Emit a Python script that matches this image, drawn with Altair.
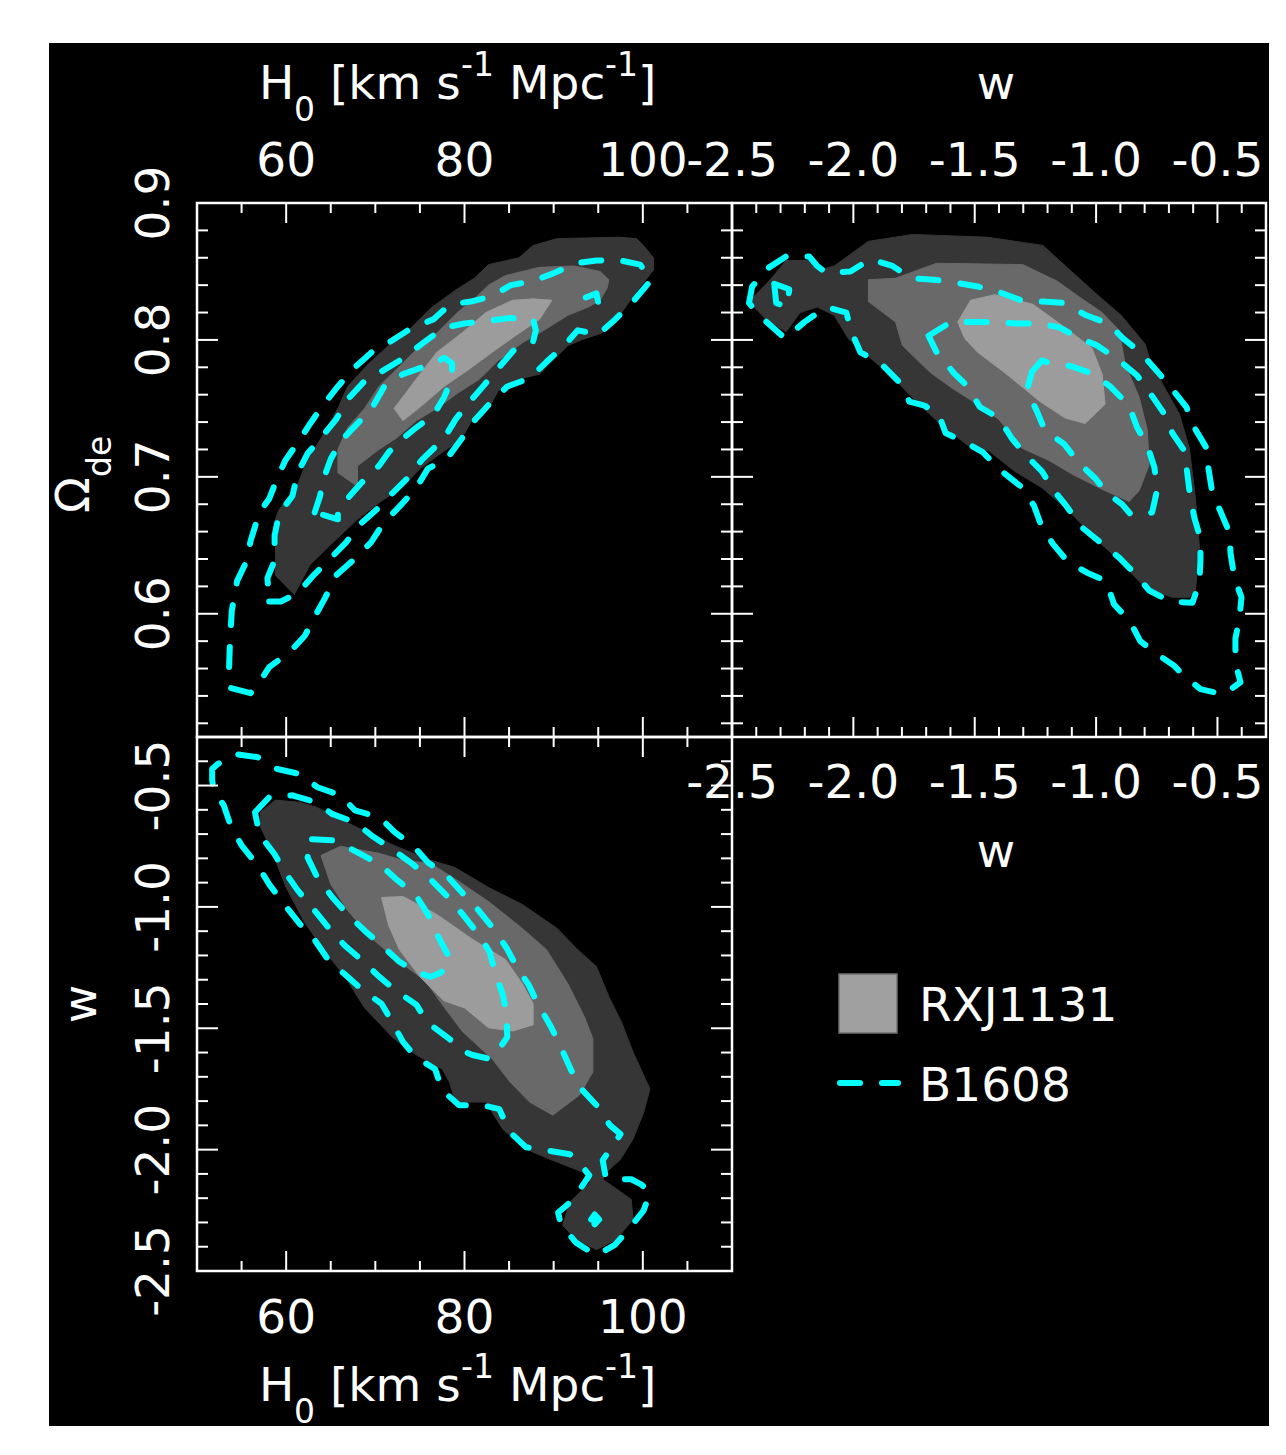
import altair as alt
import pandas as pd

FONT = "DejaVu Sans"
CYAN = "#00ffff"
GREY_OUTER = "#363636"
GREY_MID = "#696969"
GREY_INNER = "#9c9c9c"

# ---------------- axis ranges / ticks / labels ----------------
H0_DOMAIN = [50, 110]
OM_DOMAIN = [0.51, 0.9]
W_DOMAIN = [-2.5, -0.3]

H0_MAJOR = [60, 80, 100]
H0_MINOR = [55, 65, 70, 75, 85, 90, 95, 105]
OM_MAJOR = [0.6, 0.7, 0.8]
OM_MINOR = [0.52, 0.54, 0.56, 0.58, 0.62, 0.64, 0.66, 0.68, 0.72, 0.74, 0.76, 0.78, 0.82, 0.84, 0.86, 0.88]
W_MAJOR = [-2.0, -1.5, -1.0, -0.5]
W_MINOR = [-2.4, -2.3, -2.2, -2.1, -1.9, -1.8, -1.7, -1.6, -1.4, -1.3, -1.2, -1.1, -0.9, -0.8, -0.7, -0.6, -0.4]

H0_TICKVALS = [60, 80, 100]
H0_TICKLABELS = ["60", "80", "100"]
OM_TICKVALS = [0.6, 0.7, 0.8, 0.9]
OM_TICKLABELS = ["0.6", "0.7", "0.8", "0.9"]
W_TICKVALS = [-2.5, -2.0, -1.5, -1.0, -0.5]
W_TICKLABELS = ["-2.5", "-2.0", "-1.5", "-1.0", "-0.5"]

LEGEND_LABELS = ["RXJ1131", "B1608"]

# ---------------- panel H0 vs Omega_de ----------------
TL_RXJ_OUTER = [(86.1,0.860),(87.7,0.869),(90.4,0.874),(97.4,0.875),(99.3,0.874),(100.2,0.868),(101.2,0.860),(101.2,0.851),(99.6,0.838),(98.5,0.828),(97.4,0.818),(95.4,0.805),(93.1,0.800),(91.6,0.796),(88.4,0.775),(86.5,0.772),(83.8,0.763),(82.7,0.750),(80.8,0.741),(79.7,0.728),(76.9,0.715),(75.0,0.706),(73.1,0.693),(70.4,0.681),(68.0,0.669),(65.4,0.653),(62.7,0.636),(60.9,0.614),(58.8,0.628),(58.8,0.669),(59.2,0.676),(61.2,0.693),(62.3,0.711),(63.9,0.728),(65.8,0.750),(66.9,0.766),(69.3,0.783),(71.5,0.796),(73.9,0.808),(76.2,0.823),(78.9,0.836),(81.1,0.845),(82.7,0.855)]
TL_RXJ_MID = [(82.7,0.840),(84.6,0.847),(88.4,0.853),(92.3,0.854),(95.2,0.850),(96.2,0.844),(96.0,0.838),(95.2,0.829),(93.9,0.824),(91.6,0.818),(88.4,0.805),(86.5,0.798),(83.8,0.785),(81.6,0.771),(79.2,0.761),(76.9,0.750),(74.6,0.741),(72.3,0.728),(70.4,0.720),(68.0,0.708),(68.0,0.693),(65.8,0.703),(65.8,0.720),(66.9,0.736),(68.8,0.750),(70.4,0.766),(72.3,0.778),(74.6,0.793),(76.9,0.805),(79.2,0.820),(81.1,0.830)]
TL_RXJ_INNER = [(89.8,0.829),(88.4,0.815),(85.7,0.803),(83.1,0.791),(80.4,0.778),(77.7,0.766),(75.4,0.753),(73.1,0.741),(72.1,0.750),(73.4,0.761),(75.0,0.775),(76.9,0.791),(79.7,0.805),(82.4,0.820),(85.4,0.829),(87.7,0.830)]
TL_B_OUTER = [(56.0,0.542),(53.7,0.546),(53.6,0.561),(53.7,0.580),(53.9,0.602),(54.5,0.624),(55.6,0.639),(56.0,0.653),(57.0,0.674),(58.1,0.684),(59.0,0.699),(59.9,0.712),(61.3,0.725),(62.7,0.739),(64.2,0.753),(65.8,0.766),(67.7,0.780),(69.6,0.791),(71.5,0.798),(73.9,0.808),(76.5,0.815),(78.4,0.826),(80.7,0.828),(83.1,0.832),(85.2,0.840),(87.7,0.843),(90.1,0.849),(92.5,0.856),(94.8,0.858),(97.5,0.858),(99.7,0.855),(100.96,0.844),(98.9,0.828),(96.9,0.815),(95.0,0.804),(92.7,0.807),(91.2,0.796),(89.2,0.784),(87.3,0.772),(84.8,0.766),(82.9,0.754),(81.1,0.741),(79.7,0.728),(78.0,0.713),(75.9,0.706),(74.5,0.691),(72.8,0.679),(70.9,0.666),(69.5,0.652),(67.5,0.639),(65.6,0.628),(64.4,0.612),(63.3,0.599),(62.1,0.584),(60.4,0.572),(58.1,0.561),(56.8,0.548)]
TL_B_MID = [(58.1,0.609),(59.4,0.609),(61.3,0.615),(63.2,0.629),(64.9,0.640),(66.7,0.652),(68.4,0.666),(70.3,0.677),(71.9,0.688),(73.6,0.699),(75.3,0.713),(77.7,0.728),(79.0,0.742),(80.6,0.755),(82.2,0.767),(84.0,0.781),(85.6,0.793),(87.7,0.799),(88.0,0.807),(87.7,0.815),(85.1,0.816),(82.6,0.814),(80.0,0.812),(77.7,0.809),(75.4,0.798),(73.0,0.786),(70.7,0.777),(68.8,0.770),(67.1,0.758),(65.6,0.742),(64.1,0.730),(62.4,0.717),(61.3,0.703),(60.7,0.686),(59.2,0.673),(58.7,0.657),(58.7,0.639),(57.9,0.626)]
TL_B_ISLAND = [(93.6,0.831),(94.8,0.834),(95.0,0.827),(94.2,0.825)]
TL_B_INNER = [(63.2,0.674),(63.8,0.686),(64.1,0.697),(65.0,0.713),(66.1,0.726),(68.3,0.741),(69.6,0.750),(71.0,0.766),(73.1,0.775),(75.3,0.780),(76.5,0.782),(77.7,0.787),(78.6,0.783),(78.6,0.772),(77.7,0.758),(76.5,0.745),(74.6,0.736),(73.1,0.728),(71.5,0.718),(70.4,0.708),(68.5,0.696),(67.4,0.688),(65.8,0.676),(65.8,0.669)]

# ---------------- panel w vs Omega_de ----------------
TR_RXJ_OUTER = [(-2.430,0.828),(-2.347,0.843),(-2.277,0.858),(-2.178,0.858),(-2.120,0.852),(-2.079,0.854),(-1.938,0.872),(-1.756,0.877),(-1.446,0.875),(-1.219,0.869),(-1.120,0.853),(-1.008,0.835),(-0.897,0.818),(-0.798,0.797),(-0.781,0.787),(-0.727,0.768),(-0.657,0.746),(-0.616,0.721),(-0.591,0.685),(-0.574,0.648),(-0.591,0.617),(-0.616,0.612),(-0.686,0.612),(-0.798,0.619),(-0.893,0.637),(-1.004,0.655),(-1.112,0.675),(-1.223,0.692),(-1.335,0.704),(-1.442,0.719),(-1.529,0.723),(-1.657,0.741),(-1.740,0.755),(-1.839,0.773),(-1.938,0.788),(-2.021,0.801),(-2.079,0.818),(-2.149,0.824),(-2.219,0.820),(-2.277,0.806),(-2.360,0.815)]
TR_RXJ_MID = [(-1.938,0.844),(-1.938,0.828),(-1.826,0.813),(-1.798,0.796),(-1.682,0.776),(-1.587,0.764),(-1.488,0.753),(-1.401,0.742),(-1.306,0.721),(-1.194,0.712),(-1.099,0.702),(-0.988,0.692),(-0.864,0.682),(-0.822,0.690),(-0.781,0.709),(-0.789,0.734),(-0.822,0.758),(-0.880,0.782),(-0.905,0.807),(-0.975,0.820),(-1.066,0.831),(-1.161,0.843),(-1.302,0.855),(-1.657,0.856),(-1.826,0.845)]
TR_RXJ_INNER = [(-1.570,0.813),(-1.517,0.829),(-1.417,0.833),(-1.260,0.826),(-1.120,0.808),(-1.017,0.794),(-0.975,0.775),(-0.963,0.753),(-1.045,0.739),(-1.128,0.743),(-1.231,0.755),(-1.376,0.776),(-1.488,0.791),(-1.541,0.801)]
TR_B_OUTER = [(-2.430,0.827),(-2.417,0.839),(-2.347,0.853),(-2.277,0.861),(-2.182,0.861),(-2.149,0.854),(-2.112,0.849),(-2.012,0.850),(-1.930,0.859),(-1.839,0.854),(-1.760,0.845),(-1.669,0.844),(-1.587,0.842),(-1.488,0.839),(-1.401,0.835),(-1.310,0.829),(-1.219,0.828),(-1.136,0.827),(-1.041,0.818),(-0.950,0.812),(-0.888,0.801),(-0.818,0.791),(-0.748,0.777),(-0.686,0.764),(-0.628,0.751),(-0.595,0.736),(-0.545,0.721),(-0.537,0.706),(-0.521,0.688),(-0.488,0.675),(-0.450,0.659),(-0.446,0.644),(-0.430,0.626),(-0.401,0.612),(-0.409,0.597),(-0.426,0.582),(-0.426,0.564),(-0.405,0.550),(-0.475,0.541),(-0.570,0.545),(-0.640,0.555),(-0.678,0.562),(-0.736,0.569),(-0.818,0.580),(-0.859,0.594),(-0.926,0.607),(-0.959,0.624),(-1.037,0.630),(-1.116,0.638),(-1.178,0.651),(-1.227,0.665),(-1.256,0.679),(-1.310,0.693),(-1.388,0.704),(-1.467,0.718),(-1.537,0.725),(-1.620,0.732),(-1.649,0.746),(-1.707,0.752),(-1.769,0.755),(-1.810,0.769),(-1.888,0.783),(-1.971,0.791),(-2.008,0.806),(-2.029,0.820),(-2.112,0.824),(-2.202,0.813),(-2.281,0.801),(-2.388,0.818)]
TR_B_MID = [(-1.690,0.803),(-1.599,0.813),(-1.517,0.813),(-1.417,0.813),(-1.331,0.812),(-1.231,0.812),(-1.149,0.809),(-1.066,0.801),(-0.996,0.796),(-0.905,0.785),(-0.831,0.774),(-0.777,0.761),(-0.719,0.746),(-0.686,0.732),(-0.636,0.719),(-0.624,0.702),(-0.612,0.685),(-0.595,0.670),(-0.570,0.655),(-0.570,0.639),(-0.574,0.623),(-0.603,0.608),(-0.694,0.609),(-0.781,0.617),(-0.839,0.629),(-0.905,0.641),(-0.988,0.653),(-1.058,0.663),(-1.128,0.680),(-1.174,0.690),(-1.223,0.704),(-1.285,0.715),(-1.347,0.728),(-1.401,0.743),(-1.479,0.751),(-1.529,0.766),(-1.587,0.776),(-1.657,0.791)]
TR_B_ISLAND = [(-2.326,0.841),(-2.264,0.837),(-2.273,0.824),(-2.318,0.827)]
TR_B_INNER = [(-1.264,0.777),(-1.223,0.785),(-1.190,0.783),(-1.107,0.781),(-1.008,0.775),(-0.942,0.766),(-0.864,0.752),(-0.831,0.736),(-0.789,0.723),(-0.760,0.707),(-0.748,0.691),(-0.769,0.674),(-0.822,0.672),(-0.859,0.673),(-0.893,0.680),(-0.955,0.688),(-1.004,0.699),(-1.070,0.710),(-1.132,0.724),(-1.211,0.734),(-1.244,0.748),(-1.285,0.763)]

# ---------------- panel H0 vs w ----------------
BL_RXJ_OUTER = [(57.1,-0.610),(58.8,-0.560),(61.5,-0.569),(63.4,-0.589),(66.1,-0.639),(69.3,-0.697),(72.3,-0.750),(76.2,-0.808),(78.9,-0.837),(82.7,-0.920),(86.5,-0.990),(90.4,-1.089),(92.7,-1.176),(94.8,-1.246),(96.2,-1.370),(97.6,-1.474),(98.9,-1.598),(100.8,-1.750),(100.1,-1.846),(98.9,-1.957),(97.5,-2.040),(95.9,-2.093),(95.5,-2.122),(98.7,-2.205),(98.9,-2.288),(97.0,-2.370),(94.8,-2.412),(92.5,-2.370),(91.0,-2.312),(91.8,-2.217),(94.1,-2.135),(93.3,-2.093),(89.6,-2.040),(86.9,-1.998),(84.3,-1.916),(82.4,-1.804),(79.0,-1.804),(78.3,-1.721),(77.5,-1.668),(74.6,-1.610),(72.0,-1.540),(68.8,-1.416),(66.6,-1.288),(64.2,-1.176),(62.0,-1.060),(60.0,-0.920),(58.5,-0.779),(57.1,-0.668)]
BL_RXJ_MID = [(63.9,-0.788),(66.1,-0.750),(70.4,-0.779),(73.1,-0.808),(76.2,-0.821),(79.2,-0.891),(82.7,-0.978),(86.5,-1.089),(89.2,-1.176),(91.6,-1.317),(93.5,-1.457),(94.4,-1.544),(94.4,-1.680),(92.9,-1.775),(89.9,-1.858),(87.3,-1.804),(85.1,-1.721),(83.1,-1.626),(79.8,-1.515),(77.7,-1.412),(75.6,-1.304),(72.5,-1.221),(69.5,-1.126),(66.9,-1.015),(65.0,-0.907)]
BL_RXJ_INNER = [(70.7,-0.961),(73.1,-0.957),(76.9,-1.031),(80.8,-1.131),(84.6,-1.217),(86.5,-1.317),(87.7,-1.399),(87.7,-1.486),(85.4,-1.511),(82.7,-1.498),(80.0,-1.416),(77.7,-1.387),(75.0,-1.288),(72.7,-1.176),(71.5,-1.077)]
BL_B_OUTER = [(51.7,-0.478),(51.7,-0.432),(52.3,-0.412),(54.2,-0.370),(56.8,-0.383),(59.0,-0.432),(61.6,-0.453),(63.5,-0.507),(66.1,-0.540),(67.7,-0.602),(70.5,-0.631),(72.2,-0.693),(74.2,-0.746),(75.9,-0.817),(78.0,-0.870),(79.7,-0.940),(81.6,-1.015),(83.3,-1.093),(84.7,-1.168),(85.9,-1.250),(87.2,-1.321),(88.1,-1.391),(89.7,-1.494),(90.8,-1.577),(91.9,-1.668),(92.9,-1.742),(94.8,-1.817),(96.3,-1.899),(97.5,-1.936),(96.9,-1.969),(95.5,-2.044),(95.8,-2.106),(96.4,-2.122),(98.7,-2.122),(99.8,-2.143),(100.8,-2.176),(100.1,-2.250),(98.4,-2.329),(96.9,-2.391),(94.8,-2.436),(92.5,-2.383),(90.8,-2.308),(90.5,-2.259),(91.6,-2.225),(93.1,-2.155),(94.0,-2.106),(93.1,-2.064),(91.8,-2.019),(89.1,-2.002),(86.9,-1.990),(85.1,-1.928),(83.9,-1.833),(82.0,-1.817),(79.4,-1.817),(77.5,-1.755),(76.7,-1.668),(74.5,-1.618),(73.1,-1.556),(71.8,-1.469),(70.7,-1.399),(68.8,-1.350),(66.9,-1.288),(64.7,-1.217),(63.1,-1.131),(61.5,-1.069),(59.8,-0.990),(58.1,-0.907),(56.8,-0.829),(55.0,-0.746),(53.8,-0.668),(53.0,-0.581),(51.9,-0.523)]
BL_B_MID = [(56.5,-0.610),(58.1,-0.548),(60.7,-0.540),(63.3,-0.569),(65.2,-0.618),(67.7,-0.651),(69.7,-0.709),(71.9,-0.763),(74.1,-0.821),(76.2,-0.887),(78.1,-0.957),(79.8,-1.031),(81.5,-1.110),(82.8,-1.184),(83.4,-1.267),(84.3,-1.362),(84.7,-1.440),(84.8,-1.536),(83.5,-1.606),(82.8,-1.626),(80.9,-1.610),(80.1,-1.598),(78.3,-1.544),(75.9,-1.478),(74.6,-1.403),(72.3,-1.345),(70.3,-1.283),(68.4,-1.217),(66.6,-1.160),(64.9,-1.093),(63.2,-1.015),(61.3,-0.932),(59.9,-0.858),(58.7,-0.783),(57.0,-0.701)]
BL_B_ISLAND = [(94.2,-2.288),(94.6,-2.267),(95.1,-2.288),(94.6,-2.308)]
BL_B_INNER = [(62.9,-0.721),(65.4,-0.726),(68.0,-0.775),(70.5,-0.825),(72.5,-0.891),(74.5,-0.949),(75.9,-1.031),(77.1,-1.126),(78.3,-1.209),(78.2,-1.250),(77.1,-1.275),(76.2,-1.288),(74.5,-1.267),(72.7,-1.226),(70.6,-1.155),(68.8,-1.098),(66.7,-1.023),(65.2,-0.961),(63.5,-0.879),(62.4,-0.796)]

# ---------------- helpers ----------------
PW_L, PW_R, PH = 535, 534, 534
BIG, SMALL = 47, 33


def poly_df(polys):
    rows = []
    for name, pts in polys:
        for i, (a, b) in enumerate(pts):
            rows.append({"poly": name, "i": i, "a": a, "b": b})
    return pd.DataFrame(rows)


def one():
    return pd.DataFrame({"k": [0]})


def piece(s, x, y, size=BIG, angle=0, align="left"):
    kw = dict(text=s, font=FONT, fontSize=size, color="white", align=align, baseline="alphabetic")
    if angle:
        kw["angle"] = angle
    return alt.Chart(one()).mark_text(**kw).encode(x=alt.value(x), y=alt.value(y))


def h0_title(base):
    return [
        piece("H", 62, base),
        piece("0", 97, base + 22, SMALL),
        piece("[km s", 133, base),
        piece("-1", 264, base - 23, SMALL),
        piece("Mpc", 312, base),
        piece("-1", 408, base - 23, SMALL),
        piece("]", 441, base),
    ]


def panel(xdom, ydom, width, fills, lines):
    xs = alt.Scale(domain=xdom, nice=False, zero=False)
    ys = alt.Scale(domain=ydom, nice=False, zero=False)

    def X(f):
        return alt.X(f"{f}:Q", scale=xs, axis=None)

    def Y(f):
        return alt.Y(f"{f}:Q", scale=ys, axis=None)

    layers = []
    for polys, col in fills:
        layers.append(
            alt.Chart(poly_df(polys))
            .mark_line(fill=col, stroke=col, strokeWidth=1, interpolate="linear-closed")
            .encode(x=X("a"), y=Y("b"), order="i:Q", detail="poly:N")
        )
    layers.append(
        alt.Chart(poly_df(lines))
        .mark_line(stroke=CYAN, strokeWidth=6, strokeDash=[20, 22], strokeCap="round",
                   strokeJoin="round", interpolate="linear-closed")
        .encode(x=X("a"), y=Y("b"), order="i:Q", detail="poly:N")
    )
    return layers, X, Y


def ticks(X, Y, width, xmaj, xmin, ymaj, ymin):
    out = []
    for vals, L in ((xmaj, 20), (xmin, 10)):
        df = pd.DataFrame({"v": vals})
        out.append(alt.Chart(df).mark_rule(color="white", strokeWidth=2)
                   .encode(x=X("v"), y=alt.value(0), y2=alt.value(L)))
        out.append(alt.Chart(df).mark_rule(color="white", strokeWidth=2)
                   .encode(x=X("v"), y=alt.value(PH - L), y2=alt.value(PH)))
    for vals, L in ((ymaj, 21), (ymin, 11)):
        df = pd.DataFrame({"v": vals})
        out.append(alt.Chart(df).mark_rule(color="white", strokeWidth=2)
                   .encode(y=Y("v"), x=alt.value(0), x2=alt.value(L)))
        out.append(alt.Chart(df).mark_rule(color="white", strokeWidth=2)
                   .encode(y=Y("v"), x=alt.value(width - L), x2=alt.value(width)))
    out.append(alt.Chart(one()).mark_rect(filled=False, stroke="white", strokeWidth=2.5)
               .encode(x=alt.value(0), x2=alt.value(width), y=alt.value(0), y2=alt.value(PH)))
    return out


def xlabels(X, vals, labs, y):
    df = pd.DataFrame({"v": vals, "t": labs})
    return (alt.Chart(df)
            .mark_text(font=FONT, fontSize=BIG, color="white", align="center", baseline="alphabetic")
            .encode(x=X("v"), y=alt.value(y), text="t:N"))


def ylabels(Y, vals, labs, x):
    df = pd.DataFrame({"v": vals, "t": labs})
    return (alt.Chart(df)
            .mark_text(font=FONT, fontSize=BIG, color="white", align="center",
                       baseline="alphabetic", angle=270)
            .encode(y=Y("v"), x=alt.value(x), text="t:N"))


# ---------------- top-left: H0 vs Omega_de ----------------
bg = (alt.Chart(one()).mark_rect(color="black")
      .encode(x=alt.value(-148), x2=alt.value(1072), y=alt.value(-160), y2=alt.value(1223)))

tl_layers, X1, Y1 = panel(
    H0_DOMAIN, OM_DOMAIN, PW_L,
    [([("o", TL_RXJ_OUTER)], GREY_OUTER), ([("m", TL_RXJ_MID)], GREY_MID), ([("i", TL_RXJ_INNER)], GREY_INNER)],
    [("c3", TL_B_OUTER), ("c2", TL_B_MID), ("c2b", TL_B_ISLAND), ("c1", TL_B_INNER)],
)
tl = alt.layer(
    bg, *tl_layers,
    *ticks(X1, Y1, PW_L, H0_MAJOR, H0_MINOR, OM_MAJOR, OM_MINOR),
    xlabels(X1, H0_TICKVALS, H0_TICKLABELS, -27),
    ylabels(Y1, OM_TICKVALS, OM_TICKLABELS, -28),
    *h0_title(-104),
    piece("\u03a9", -108, 310, BIG, angle=270),
    piece("de", -86, 274, SMALL, angle=270),
).properties(width=PW_L, height=PH)

# ---------------- top-right: w vs Omega_de ----------------
tr_layers, X2, Y2 = panel(
    W_DOMAIN, OM_DOMAIN, PW_R,
    [([("o", TR_RXJ_OUTER)], GREY_OUTER), ([("m", TR_RXJ_MID)], GREY_MID), ([("i", TR_RXJ_INNER)], GREY_INNER)],
    [("c3", TR_B_OUTER), ("c2", TR_B_MID), ("c2b", TR_B_ISLAND), ("c1", TR_B_INNER)],
)
tr = alt.layer(
    *tr_layers,
    *ticks(X2, Y2, PW_R, W_MAJOR, W_MINOR, OM_MAJOR, OM_MINOR),
    xlabels(X2, W_TICKVALS, W_TICKLABELS, -27),
    xlabels(X2, W_TICKVALS, W_TICKLABELS, 595),
    piece("w", 264, -104, align="center"),
    piece("w", 264, 664, align="center"),
).properties(width=PW_R, height=PH)

# ---------------- bottom-left: H0 vs w ----------------
bl_layers, X3, Y3 = panel(
    H0_DOMAIN, W_DOMAIN, PW_L,
    [([("o", BL_RXJ_OUTER)], GREY_OUTER), ([("m", BL_RXJ_MID)], GREY_MID), ([("i", BL_RXJ_INNER)], GREY_INNER)],
    [("c3", BL_B_OUTER), ("c2", BL_B_MID), ("c2b", BL_B_ISLAND), ("c1", BL_B_INNER)],
)
bl = alt.layer(
    *bl_layers,
    *ticks(X3, Y3, PW_L, H0_MAJOR, H0_MINOR, W_MAJOR, W_MINOR),
    xlabels(X3, H0_TICKVALS, H0_TICKLABELS, 596),
    ylabels(Y3, W_TICKVALS, W_TICKLABELS, -28),
    *h0_title(664),
    piece("w", -101, 267, BIG, angle=270, align="center"),
).properties(width=PW_L, height=PH)

# ---------------- bottom-right: legend ----------------
leg_square = (alt.Chart(one()).mark_rect(fill="#a0a0a0", stroke="#707070", strokeWidth=1.5)
              .encode(x=alt.value(107), x2=alt.value(165), y=alt.value(237), y2=alt.value(296)))
leg_dash = (alt.Chart(one()).mark_rule(color=CYAN, strokeWidth=6, strokeDash=[20, 22], strokeCap="round")
            .encode(x=alt.value(108), x2=alt.value(166), y=alt.value(346)))
br = alt.layer(
    leg_square,
    leg_dash,
    piece(LEGEND_LABELS[0], 187, 284),
    piece(LEGEND_LABELS[1], 187, 364),
).properties(width=PW_R, height=PH)

chart = (
    alt.concat(tl, tr, bl, br, columns=2, spacing=0, bounds="flush")
    .properties(padding={"left": 40, "top": 34, "right": 0, "bottom": 0}, background="white")
    .configure_view(stroke="transparent")
)

chart.save("out.html", embed_options={"renderer": "svg", "actions": False})
